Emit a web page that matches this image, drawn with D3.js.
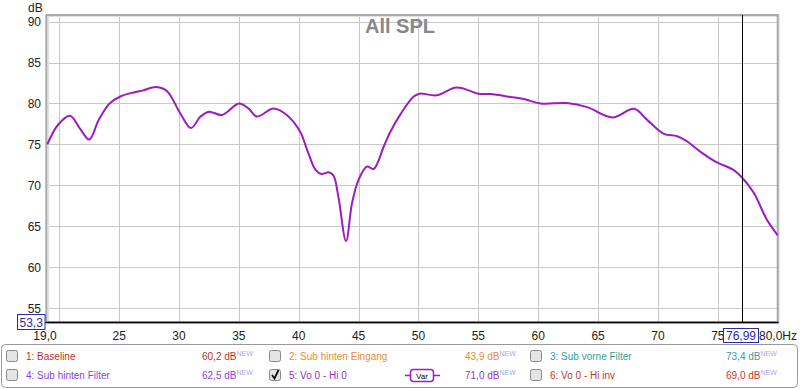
<!DOCTYPE html>
<html>
<head>
<meta charset="utf-8">
<script src="https://cdn.jsdelivr.net/npm/d3@7"></script>
<style>
body{margin:0;background:#fff;}
text{font-family:"Liberation Sans",Arial,sans-serif;}
</style>
</head>
<body>
<div id="chart"></div>
<script>
var width=800, height=389;

// curve data (Hz, dB)
var freqs=[19.0,19.9,20.9,21.7,22.5,23.3,24.2,25.1,26.2,27.0,28.1,29.0,30.1,31.0,31.8,32.5,33.6,35.0,35.8,36.5,37.9,39.0,40.1,40.7,41.4,41.9,42.5,42.9,43.3,43.95,44.45,45.0,45.7,46.25,47.1,47.6,48.5,49.6,50.1,51.5,53.2,55.0,56.0,57.7,58.8,60.2,62.4,64.1,66.2,68.0,69.1,70.5,71.6,72.4,73.5,74.8,76.3,77.0,78.0,79.1,80.0];
var spl=[75.0,77.4,78.5,77.0,75.6,78.0,80.0,80.85,81.35,81.6,82.0,81.5,78.8,77.0,78.4,79.0,78.6,80.0,79.4,78.4,79.4,78.6,76.6,74.35,71.9,71.4,71.6,71.2,68.7,63.2,67.85,70.7,72.3,72.0,74.75,76.4,78.7,80.85,81.2,81.0,81.95,81.2,81.15,80.8,80.55,80.0,80.05,79.55,78.3,79.35,78.0,76.3,76.0,75.4,74.15,72.9,71.9,71.0,69.1,65.8,63.9];

var xTicks=[25,30,35,40,45,50,55,60,65,70,75];
var xGrid=[20,25,30,35,40,45,50,55,60,65,70,75];
var yTicks=[55,60,65,70,75,80,85,90];
var cursorHz=76.99;

// legend
var legNames=["1: Baseline","2: Sub hinten Eingang","3: Sub vorne Filter","4: Sub hinten Filter","5: Vo 0 - Hi 0","6: Vo 0 - Hi inv"];
var legValues=["60,2 dB","43,9 dB","73,4 dB","62,5 dB","71,0 dB","69,0 dB"];
var legColors=["#c0302c","#ee8a34","#34a0a0","#8a44dc","#9a30c4","#c4382e"];
var legChecked=[false,false,false,false,true,false];

var x=d3.scaleLinear().domain([19,80]).range([47.3,777.7]);
var y=d3.scaleLinear().domain([53.3,90.8]).range([322.2,15]);

var svg=d3.select("#chart").append("svg").attr("width",width).attr("height",height);

// grid
svg.selectAll(".vg").data(xGrid).enter().append("line")
  .attr("x1",d=>Math.round(x(d))+0.5).attr("x2",d=>Math.round(x(d))+0.5)
  .attr("y1",y.range()[1]).attr("y2",y.range()[0]).attr("stroke","#c8c8c8");
svg.selectAll(".hg").data(yTicks).enter().append("line")
  .attr("x1",x.range()[0]).attr("x2",x.range()[1])
  .attr("y1",d=>Math.round(y(d))+0.5).attr("y2",d=>Math.round(y(d))+0.5).attr("stroke","#c8c8c8");

// frame
svg.append("rect").attr("x",x.range()[0]+1).attr("y",y.range()[1]+1).attr("width",x.range()[1]-x.range()[0]).attr("height",y.range()[0]-y.range()[1])
  .attr("fill","none").attr("stroke","#e2e2e2").attr("stroke-width",2);
svg.append("rect").attr("x",x.range()[0]-1).attr("y",y.range()[1]).attr("width",x.range()[1]-x.range()[0]+1).attr("height",y.range()[0]-y.range()[1])
  .attr("fill","none").attr("stroke","#aaaaaa").attr("stroke-width",2);
svg.append("line").attr("x1",x.range()[0]-2).attr("x2",x.range()[1]+1).attr("y1",322.5).attr("y2",322.5).attr("stroke","#000").attr("stroke-width",1.5);

// title
svg.append("text").attr("x",400).attr("y",33).attr("text-anchor","middle").attr("font-size",20).attr("font-weight","bold").attr("fill","#888").text("All SPL");

// y axis labels
svg.append("text").attr("x",28).attr("y",12).attr("font-size",12).attr("fill","#222").text("dB");
svg.selectAll(".yl").data(yTicks).enter().append("text")
  .attr("x",41).attr("y",d=>y(d)+4.5).attr("text-anchor","end").attr("font-size",12).attr("fill","#222").text(d=>d);
svg.append("rect").attr("x",17.5).attr("y",314.5).attr("width",27.5).attr("height",15).attr("fill","#fff").attr("stroke","#2a2aa8");
svg.append("text").attr("x",31.2).attr("y",326.5).attr("text-anchor","middle").attr("font-size",12).attr("fill","#2a2ab0").text("53,3");

// x axis labels
svg.append("text").attr("x",45).attr("y",340).attr("text-anchor","middle").attr("font-size",12).attr("fill","#222").text("19,0");
svg.selectAll(".xl").data(xTicks).enter().append("text")
  .attr("x",d=>x(d)).attr("y",340).attr("text-anchor","middle").attr("font-size",12).attr("fill","#222").text(d=>d);
svg.append("text").attr("x",759).attr("y",340).attr("font-size",12).attr("fill","#222").text("80,0Hz");

// curve
var line=d3.line().x((d,i)=>x(freqs[i])).y(d=>y(d)).curve(d3.curveCatmullRom.alpha(0.5));
svg.append("path").attr("d",line(spl)).attr("fill","none").attr("stroke","#9c1cc0").attr("stroke-width",2);

// cursor
svg.append("line").attr("x1",Math.round(x(cursorHz))+0.5).attr("x2",Math.round(x(cursorHz))+0.5)
  .attr("y1",y.range()[1]).attr("y2",y.range()[0]).attr("stroke","#000");
svg.append("rect").attr("x",723.5).attr("y",328.5).attr("width",35).attr("height",14).attr("fill","#fff").attr("stroke","#2a2aa8");
svg.append("text").attr("x",741).attr("y",340).attr("text-anchor","middle").attr("font-size",12).attr("fill","#2a2ab0").text("76,99");

// legend
svg.append("rect").attr("x",1.5).attr("y",344.5).attr("width",796).attr("height",43).attr("rx",4)
  .attr("fill","#fff").attr("stroke","#999");
var colX=[6.5,269.5,530.5], rowY=[356,375];
legNames.forEach(function(name,i){
  var cx=colX[i%3], cy=rowY[Math.floor(i/3)];
  svg.append("rect").attr("x",cx).attr("y",cy-5.5).attr("width",11).attr("height",11).attr("rx",2)
    .attr("fill","#e4e4e4").attr("stroke","#888");
  if(legChecked[i]){
    svg.append("path").attr("d","M"+(cx+2.5)+","+(cy)+" L"+(cx+5)+","+(cy+3.5)+" L"+(cx+9)+","+(cy-5))
      .attr("fill","none").attr("stroke","#111").attr("stroke-width",1.8);
  }
  svg.append("text").attr("x",cx+19.5).attr("y",cy+3.5).attr("font-size",10).attr("fill",legColors[i]).text(name);
  var t=svg.append("text").attr("x",cx+195.5).attr("y",cy+3.5).attr("font-size",10).attr("fill",legColors[i]).text(legValues[i]);
  t.append("tspan").attr("dy",-4).attr("font-size",7).attr("fill","#a8a8e8").text("NEW");
});
// Var marker for the shown curve
svg.append("line").attr("x1",405).attr("x2",440).attr("y1",375.5).attr("y2",375.5).attr("stroke","#9c1cc0").attr("stroke-width",1.5);
svg.append("rect").attr("x",410.5).attr("y",369.5).attr("width",23).attr("height",12).attr("rx",3).attr("fill","#fff").attr("stroke","#9c1cc0").attr("stroke-width",1.5);
svg.append("text").attr("x",422).attr("y",378.5).attr("text-anchor","middle").attr("font-size",8).attr("fill","#000").text("Var");
</script>
</body>
</html>
